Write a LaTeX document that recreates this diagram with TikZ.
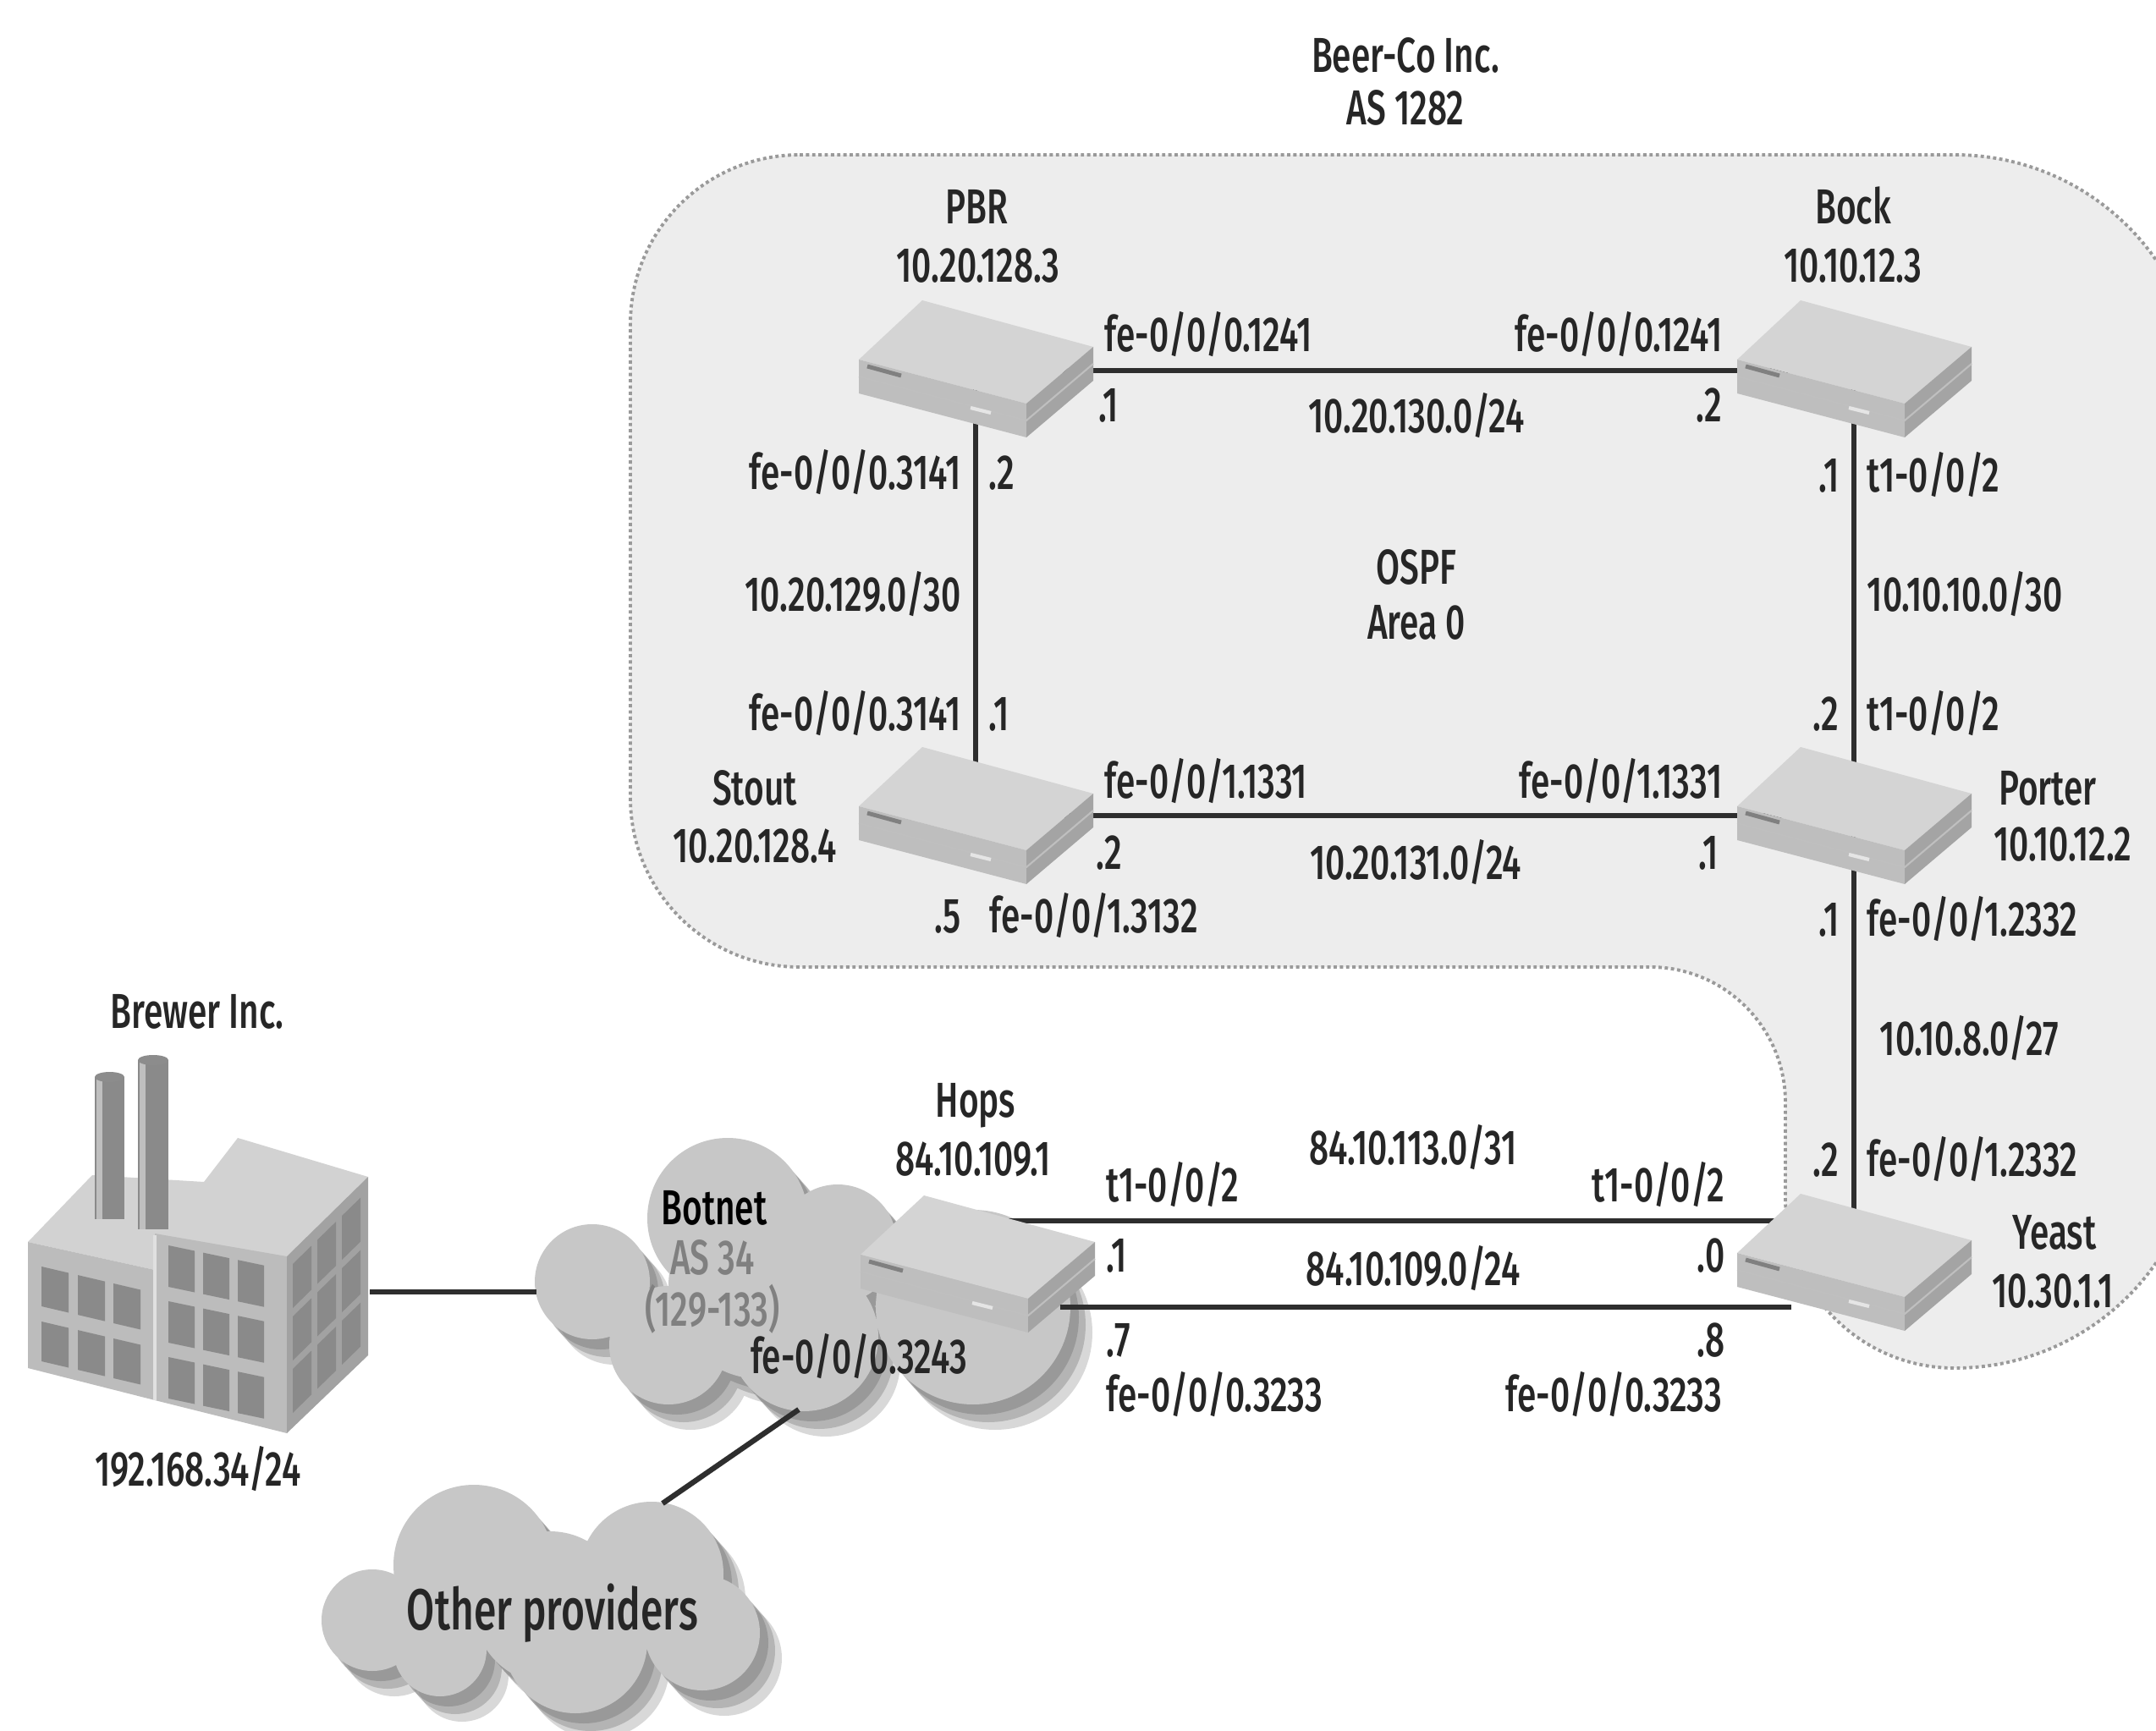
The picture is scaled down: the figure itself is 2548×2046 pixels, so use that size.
\documentclass[tikz,border=0pt]{standalone}
\usepackage{fontspec}
\setmainfont{Fira Sans Medium}[FakeStretch=0.70]
\usetikzlibrary{calc}
\newcommand{\pxsize}{0.01cm}
\newcommand{\lbl}{\fontsize{16.5}{18}\selectfont}
\newcommand{\biglbl}{\fontsize{19.5}{22}\selectfont}

\definecolor{areafill}{HTML}{EDEDED}
\definecolor{areaedge}{HTML}{9A9A9A}
\definecolor{linkcol}{HTML}{2E2E2E}
\definecolor{rtop}{HTML}{D4D4D4}
\definecolor{rfront}{HTML}{BEBEBE}
\definecolor{rside}{HTML}{A4A4A4}
\definecolor{cloudfill}{HTML}{C7C7C7}
\definecolor{cloudshade}{HTML}{808080}
\definecolor{wallfront}{HTML}{BCBCBC}
\definecolor{wallside}{HTML}{A2A2A2}
\definecolor{roof}{HTML}{D2D2D2}
\definecolor{pane}{HTML}{8A8A8A}

% router box around a named coordinate
\newcommand{\router}[1]{%
  \begin{scope}[shift={(#1)}]
    \fill[rtop] (-63,-81) -- (139,-26) -- (60,41) -- (-138,-11) -- cycle;
    \fill[rfront] (-138,-11) -- (60,41) -- (60,81) -- (-138,29) -- cycle;
    \fill[rside] (60,41) -- (139,-26) -- (139,14) -- (60,81) -- cycle;
    \draw[black!25, line width=0.6pt] (-138,9) -- (60,61) -- (139,-6);
    \draw[black!50, line width=1.4pt] (-128,-3) -- (-88,8);
    \draw[white!90!black, line width=1.2pt] (-6,46) -- (18,52);
  \end{scope}}

% cloud outlines as x/y/radius
\newcommand{\botnetlist}{700/1515/68, 860/1440/95, 990/1470/70, 790/1590/70, 950/1580/88, 1150/1545/115, 900/1520/110}
\newcommand{\otherslist}{440/1915/60, 560/1850/95, 770/1860/85, 830/1930/68, 680/1940/85, 520/1950/55, 650/1900/90}

\begin{document}
\begin{tikzpicture}[x=\pxsize, y=-\pxsize]
\tikzstyle{every node}=[font=\lbl, text=black!85, inner sep=0pt, text height=11.4pt, text depth=0pt]
\tikzstyle{link}=[linkcol, line width=1.8pt]
\tikzstyle{area}=[fill=areafill, draw=areaedge, densely dotted, line width=1.1pt]

\useasboundingbox (0,0) rectangle (2548,2046);
\fill[white] (0,0) rectangle (2548,2046);

% Beer-Co area
\path[area] (945,183) -- (2310,183) arc[start angle=270, end angle=360, radius=290]
  -- (2600,1327) arc[start angle=0, end angle=90, radius=290]
  arc[start angle=90, end angle=180, radius=200] -- (2110,1303)
  arc[start angle=0, end angle=-90, radius=160] -- (945,1143)
  arc[start angle=90, end angle=180, radius=200] -- (745,383)
  arc[start angle=180, end angle=270, radius=200] -- cycle;

% clouds
\foreach \sx/\sy/\op in {26/30/0.3, 18/21/0.4, 10/12/0.5} {
  \fill[cloudshade, opacity=\op, shift={(\sx,\sy)}] \foreach \cx/\cy/\cr in \botnetlist {(\cx,\cy) circle[radius=\cr]};
  \fill[cloudshade, opacity=\op, shift={(\sx,\sy)}] \foreach \cx/\cy/\cr in \otherslist {(\cx,\cy) circle[radius=\cr]};
}
\fill[cloudfill] \foreach \cx/\cy/\cr in \botnetlist {(\cx,\cy) circle[radius=\cr]};
\fill[cloudfill] \foreach \cx/\cy/\cr in \otherslist {(\cx,\cy) circle[radius=\cr]};

% factory
\fill[roof] (33,1468) -- (109,1389) -- (241,1397) -- (281,1345) -- (435,1391) -- (339,1485) -- (183,1501) -- cycle;
\fill[pane] (112,1273) rectangle (147,1441);
\fill[pane] (163,1253) rectangle (199,1453);
\fill[black!25] (114,1273) rectangle (121,1441);
\fill[black!25] (165,1253) rectangle (172,1453);
\fill[black!45] (129.5,1273) ellipse[x radius=17.5, y radius=6];
\fill[black!45] (181,1253) ellipse[x radius=18, y radius=6];
\fill[wallfront] (33,1468) -- (183,1501) -- (183,1655) -- (33,1617) -- cycle;
\fill[wallfront] (183,1458) -- (339,1485) -- (339,1694) -- (183,1655) -- cycle;
\fill[wallside] (339,1485) -- (435,1391) -- (435,1602) -- (339,1694) -- cycle;
\draw[black!12, line width=1pt] (183,1460) -- (183,1655);
\foreach \wx in {49,92,134} \foreach \wy in {1497,1562} {
  \fill[pane] (\wx,{\wy+0.235*(\wx-49)}) -- ++(32,7.5) -- ++(0,47) -- ++(-32,-7.5) -- cycle;}
\foreach \wx in {199,240,281} \foreach \wy in {1472,1538,1604} {
  \fill[pane] (\wx,{\wy+0.21*(\wx-199)}) -- ++(31,6.5) -- ++(0,49) -- ++(-31,-6.5) -- cycle;}
\foreach \wx in {346,375,404} \foreach \wy in {1494,1556,1618} {
  \fill[pane] (\wx,{\wy-0.98*(\wx-346)}) -- ++(22,-21.5) -- ++(0,52) -- ++(-22,21.5) -- cycle;}

% routers
\coordinate (pbr) at (1153,436);
\coordinate (bock) at (2191,436);
\coordinate (stout) at (1153,964);
\coordinate (porter) at (2191,964);
\coordinate (hops) at (1155,1494);
\coordinate (yeast) at (2191,1492);

\coordinate (brewer-port) at (437,1527);
\coordinate (botnet-west) at (634,1527);
\coordinate (botnet-south) at (944,1666);
\coordinate (others-north) at (783,1777);

\draw[link] (brewer-port) -- (botnet-west);
\draw[link] (botnet-south) -- (others-north);

\draw[link] ($(pbr)+(0,2)$) -- ($(bock)+(0,2)$);
\draw[link] (pbr) -- (stout);
\draw[link] (bock) -- (porter);
\draw[link] (stout) -- (porter);
\draw[link] (porter) -- (yeast);
\draw[link] ($(hops)+(0,-51)$) -- ($(yeast)+(0,-49)$);

\router{pbr}
\router{bock}
\router{stout}
\router{porter}
\router{hops}
\router{yeast}

\draw[link] ($(hops)+(98,51)$) -- ($(yeast)+(-74,53)$);

% labels
\node (beerco-name) at (1661,65) {Beer-Co Inc.};
\node (beerco-as) at (1661,127) {AS 1282};
\node (ospf) at (1674,670) {OSPF};
\node (ospf-area) at (1674,735) {Area 0};

\node (pbr-name) at (1154,244) {PBR};
\node (pbr-ip) at (1156,313) {10.20.128.3};
\node (bock-name) at (2190,244) {Bock};
\node (bock-ip) at (2190,313) {10.10.12.3};
\node (stout-name) at (892,931) {Stout};
\node (stout-ip) at (892,999) {10.20.128.4};
\node (porter-name) at (2420,931) {Porter};
\node (porter-ip) at (2438,997) {10.10.12.2};
\node (hops-name) at (1153,1300) {Hops};
\node (hops-ip) at (1150,1369) {84.10.109.1};
\node (yeast-name) at (2428,1456) {Yeast};
\node (yeast-ip) at (2426,1525) {10.30.1.1};

% PBR - Bock
\node[anchor=west] (pb-if1) at (1305,395) {fe-0/0/0.1241};
\node[anchor=east] (pb-if2) at (2036,395) {fe-0/0/0.1241};
\node (pb-a1) at (1310,478) {.1};
\node (pb-a2) at (2020,478) {.2};
\node (pb-net) at (1674,491) {10.20.130.0/24};

% PBR - Stout
\node[anchor=east] (ps-if1) at (1136,558) {fe-0/0/0.3141};
\node[anchor=west] (ps-a1) at (1168,558) {.2};
\node[anchor=east] (ps-net) at (1136,702) {10.20.129.0/30};
\node[anchor=east] (ps-if2) at (1136,843) {fe-0/0/0.3141};
\node[anchor=west] (ps-a2) at (1168,843) {.1};

% Bock - Porter
\node[anchor=east] (bp-a1) at (2174,561) {.1};
\node[anchor=west] (bp-if1) at (2206,561) {t1-0/0/2};
\node[anchor=west] (bp-net) at (2206,702) {10.10.10.0/30};
\node[anchor=east] (bp-a2) at (2174,843) {.2};
\node[anchor=west] (bp-if2) at (2206,843) {t1-0/0/2};

% Stout - Porter
\node[anchor=west] (sp-if1) at (1305,923) {fe-0/0/1.1331};
\node[anchor=east] (sp-if2) at (2036,923) {fe-0/0/1.1331};
\node (sp-a1) at (1311,1007) {.2};
\node (sp-a2) at (2019,1007) {.1};
\node (sp-net) at (1673,1019) {10.20.131.0/24};
\node (stout-a) at (1120,1082) {.5};
\node[anchor=west] (stout-if) at (1169,1082) {fe-0/0/1.3132};

% Porter - Yeast
\node[anchor=east] (py-a1) at (2174,1086) {.1};
\node[anchor=west] (py-if1) at (2206,1086) {fe-0/0/1.2332};
\node[anchor=west] (py-net) at (2221,1227) {10.10.8.0/27};
\node[anchor=east] (py-a2) at (2174,1370) {.2};
\node[anchor=west] (py-if2) at (2206,1370) {fe-0/0/1.2332};

% Hops - Yeast
\node (hy-net1) at (1670,1356) {84.10.113.0/31};
\node[anchor=west] (hy-if1) at (1307,1400) {t1-0/0/2};
\node[anchor=east] (hy-if2) at (2039,1400) {t1-0/0/2};
\node[anchor=west] (hy-a1) at (1307,1483) {.1};
\node[anchor=east] (hy-a2) at (2039,1483) {.0};
\node (hy-net2) at (1670,1499) {84.10.109.0/24};
\node[anchor=west] (hy-a3) at (1307,1583) {.7};
\node[anchor=east] (hy-a4) at (2039,1583) {.8};
\node[anchor=west] (hy-if3) at (1307,1648) {fe-0/0/0.3233};
\node[anchor=east] (hy-if4) at (2036,1648) {fe-0/0/0.3233};

% Botnet, Brewer and the rest
\node[text=black] (botnet-name) at (844,1427) {Botnet};
\node[text=black!50] (botnet-as) at (842,1486) {AS 34};
\node[text=black!50] (botnet-range) at (842,1547) {(129-133)};
\node (botnet-if) at (1015,1603) {fe-0/0/0.3243};
\node (brewer-name) at (233,1195) {Brewer Inc.};
\node (brewer-net) at (234,1736) {192.168.34/24};
\node[font=\biglbl, text height=13.5pt] (others-name) at (653,1903) {Other providers};

\end{tikzpicture}
\end{document}
